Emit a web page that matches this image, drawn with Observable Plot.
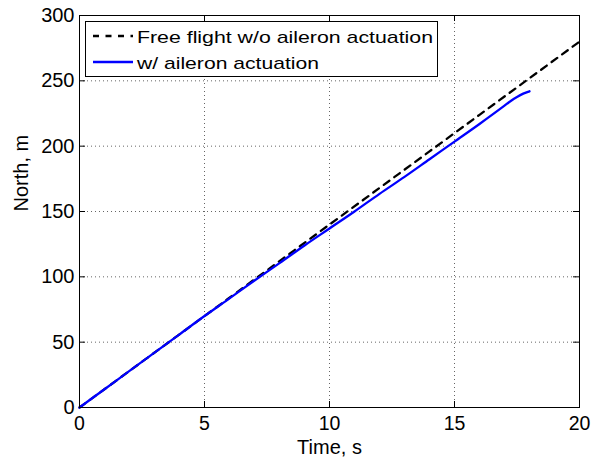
<!DOCTYPE html>
<html>
<head>
<meta charset="utf-8">
<script src="https://cdn.jsdelivr.net/npm/d3@7"></script>
<script src="https://cdn.jsdelivr.net/npm/@observablehq/plot@0.6"></script>
<style>
  html, body { margin: 0; padding: 0; background: white; }
</style>
</head>
<body>
<div id="chart"></div>
<script>
// ---- data ----
const freeTime  = [0, 2, 4, 6, 8, 10, 12, 14, 16, 18, 20];
const freeNorth = [0, 28, 56, 84, 112, 140, 168, 196, 224, 252, 280];

const ailTime  = [0, 1, 2, 3, 4, 5, 6, 7, 8, 9, 10, 11, 12, 13, 14, 15, 16, 17, 17.25, 17.5, 17.75, 18];
const ailNorth = [0, 14, 28, 42, 56, 70, 83.5, 97.2, 110.5, 124, 137, 150, 163.5, 176.5, 190, 203.5, 217, 231, 234.6, 237.7, 240.2, 242];

const xTicks = [0, 5, 10, 15, 20];
const yTicks = [0, 50, 100, 150, 200, 250, 300];

const seriesNames = ["Free flight w/o aileron actuation", "w/ aileron actuation"];
const xLabel = "Time, s";
const yLabel = "North, m";

// ---- build tables ----
const free = freeTime.map((t, i) => ({t, n: freeNorth[i]}));
const ail  = ailTime.map((t, i) => ({t, n: ailNorth[i]}));

const W = 595, H = 459;
const mL = 79, mR = 16, mT = 15, mB = 52;
const fw = W - mL - mR, fh = H - mT - mB;
const tick = 6;
const gridStyle = {stroke: "#666", strokeOpacity: 1, strokeWidth: 1, strokeDasharray: "1,3"};

const chart = Plot.plot({
  width: W, height: H,
  marginLeft: mL, marginRight: mR, marginTop: mT, marginBottom: mB,
  style: {fontFamily: "'Liberation Sans', Arial, sans-serif", fontSize: "20px", color: "black", background: "white"},
  x: {domain: [0, 20], ticks: xTicks},
  y: {domain: [0, 300], ticks: yTicks},
  marks: [
    Plot.gridX(xTicks, gridStyle),
    Plot.gridY(yTicks, gridStyle),
    Plot.line(free, {x: "t", y: "n", stroke: "black", strokeWidth: 2.3, strokeDasharray: "7,6"}),
    Plot.line(ail, {x: "t", y: "n", stroke: "#0000ff", strokeWidth: 2.3, curve: "monotone-x"}),
    Plot.frame({stroke: "black", strokeWidth: 1}),
    // inward ticks on all four sides
    Plot.ruleX(xTicks, {x: d => d, insetTop: fh - tick, stroke: "black"}),
    Plot.ruleX(xTicks, {x: d => d, insetBottom: fh - tick, stroke: "black"}),
    Plot.ruleY(yTicks, {y: d => d, insetRight: fw - tick, stroke: "black"}),
    Plot.ruleY(yTicks, {y: d => d, insetLeft: fw - tick, stroke: "black"}),
    Plot.axisX(xTicks, {tickSize: 0, tickPadding: 9, label: null, fontSize: 19.5}),
    Plot.axisY(yTicks, {tickSize: 0, tickPadding: 5, label: null}),
    Plot.text([xLabel], {text: d => d, frameAnchor: "bottom", dy: 46, lineAnchor: "bottom", fontSize: 20}),
    Plot.text([yLabel], {text: d => d, frameAnchor: "left", dx: -52, rotate: -90, lineAnchor: "bottom", fontSize: 20})
  ]
});

// ---- legend (MATLAB style box, upper left) ----
const svg = d3.select(chart);
const lg = svg.append("g").attr("class", "legend").attr("text-anchor", "start");
lg.append("rect")
  .attr("x", 85.5).attr("y", 21.5).attr("width", 352).attr("height", 55)
  .attr("fill", "white").attr("stroke", "black").attr("stroke-width", 1);
const rows = [
  {name: seriesNames[0], stroke: "black", dash: "6,6.5", ly: 36, ty: 43, len: 296},
  {name: seriesNames[1], stroke: "#0000ff", dash: null, ly: 62, ty: 69, len: 182}
];
rows.forEach(r => {
  const l = lg.append("line")
    .attr("x1", 93).attr("x2", 133).attr("y1", r.ly).attr("y2", r.ly)
    .attr("stroke", r.stroke).attr("stroke-width", 2.3);
  if (r.dash) l.attr("stroke-dasharray", r.dash);
  lg.append("text")
    .attr("x", 137).attr("y", r.ty)
    .attr("text-anchor", "start")
    .attr("font-family", "'Liberation Sans', Arial, sans-serif")
    .attr("font-size", 17)
    .attr("textLength", r.len).attr("lengthAdjust", "spacingAndGlyphs")
    .attr("fill", "black")
    .text(r.name);
});

document.getElementById("chart").appendChild(chart);
</script>
</body>
</html>
